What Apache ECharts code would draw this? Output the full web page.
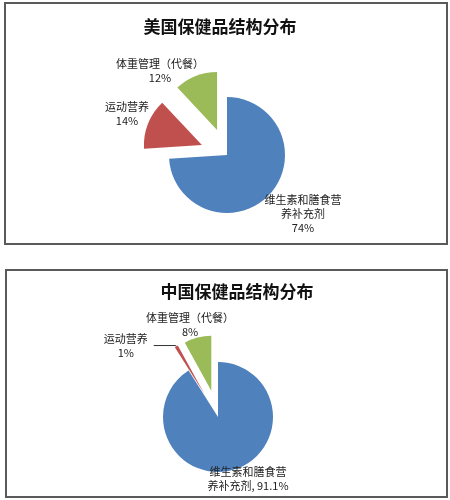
<!DOCTYPE html>
<html>
<head>
<meta charset="utf-8">
<script src="https://cdn.jsdelivr.net/npm/echarts@6/dist/echarts.min.js"></script>
<style>
  html, body { margin: 0; padding: 0; background: #fff; }
  #main { width: 450px; height: 500px; }
</style>
</head>
<body>
<div id="main"></div>
<script>
// categories, clockwise from 12 o'clock
const categories = ['维生素和膳食营养补充剂', '运动营养', '体重管理（代餐）'];
const usValues = [74, 14, 12];
const cnValues = [91.1, 1, 8];
const colors = ['#4F81BD', '#C0504D', '#9BBB59'];

const FONT = '"Noto Sans CJK SC", sans-serif';

// label anchor per slice (null = keep the pie's own outside label)
const usLabelPos = [[303, 214], [127, 114], [160, 71]];
const cnLabelPos = [[248, 479], null, [190, 325]];

function wrapName(name) {
  return name.length > 8 ? name.slice(0, 7) + '\n' + name.slice(7) : name;
}

function pieData(values, exploded) {
  return categories.map(function (name, i) {
    return {
      name: name,
      value: values[i],
      selected: exploded && i > 0,
      itemStyle: { color: exploded ? colors[i] : 'rgba(0,0,0,0)' }
    };
  });
}

const chart = echarts.init(document.getElementById('main'));

const labelBase = {
  color: '#222',
  fontSize: 11,
  fontFamily: FONT,
  lineHeight: 14,
  align: 'center'
};

// the selected (exploded) slices keep their own label placement, so the
// labels are carried by an unexploded, transparent copy of each pie
function labelPie(center, radius, values, table, formatter) {
  return {
    type: 'pie',
    center: center,
    radius: radius,
    startAngle: 90,
    silent: true,
    z: 3,
    avoidLabelOverlap: false,
    data: pieData(values, false).map(function (d, i) {
      if (!table[i]) d.label = { show: false };
      return d;
    }),
    label: Object.assign({ show: true, formatter: formatter }, labelBase),
    labelLine: { show: false },
    labelLayout: function (p) {
      const pos = table[p.dataIndex];
      if (!pos) return {};
      return { x: pos[0], y: pos[1], align: 'center', verticalAlign: 'middle' };
    },
    emphasis: { disabled: true }
  };
}

const titleStyle = { fontSize: 17, fontWeight: 'bold', color: '#111', fontFamily: FONT };

const option = {
  backgroundColor: '#fff',
  animation: false,
  graphic: [
    { type: 'rect', shape: { x: 5, y: 3, width: 442, height: 241 },
      style: { fill: 'none', stroke: '#5a5a5a', lineWidth: 2 } },
    { type: 'rect', shape: { x: 6, y: 270, width: 441, height: 227 },
      style: { fill: 'none', stroke: '#5a5a5a', lineWidth: 2 } }
  ],
  title: [
    { text: '美国保健品结构分布', left: 215, top: 13, textAlign: 'center', textStyle: titleStyle },
    { text: '中国保健品结构分布', left: 232, top: 278, textAlign: 'center', textStyle: titleStyle }
  ],
  series: [
    {
      name: 'US',
      type: 'pie',
      center: [227, 155],
      radius: [0, 58],
      startAngle: 90,
      selectedMode: 'multiple',
      selectedOffset: 27,
      data: pieData(usValues, true),
      label: { show: false },
      labelLine: { show: false },
      emphasis: { disabled: true }
    },
    labelPie([227, 155], [0, 58], usValues, usLabelPos, function (p) {
      return wrapName(p.name) + '\n' + p.value + '%';
    }),
    {
      name: 'CN',
      type: 'pie',
      center: [218, 417],
      radius: [0, 55],
      startAngle: 90,
      avoidLabelOverlap: false,
      selectedMode: 'multiple',
      selectedOffset: 27,
      data: pieData(cnValues, true),
      label: Object.assign({ show: false }, labelBase, {
        formatter: function (p) {
          return '{c|' + p.name + '}\n{c|' + p.value + '%}';
        },
        rich: {
          c: { width: 46, align: 'center', fontSize: 11, fontFamily: FONT, color: '#222', lineHeight: 14 }
        }
      }),
      labelLine: { show: false },
      emphasis: { disabled: true }
    },
    labelPie([218, 417], [0, 55], cnValues, cnLabelPos, function (p) {
      if (p.dataIndex === 0) return wrapName(p.name) + ', ' + p.value + '%';
      return p.name + '\n' + p.value + '%';
    })
  ]
};

// the small red slice in the China chart keeps its own label with a leader line
option.series[2].data[1].label = { show: true };
option.series[2].data[1].labelLine = {
  show: true, length: 1, length2: 22,
  lineStyle: { color: '#333', width: 1 }
};

chart.setOption(option);
</script>
</body>
</html>
